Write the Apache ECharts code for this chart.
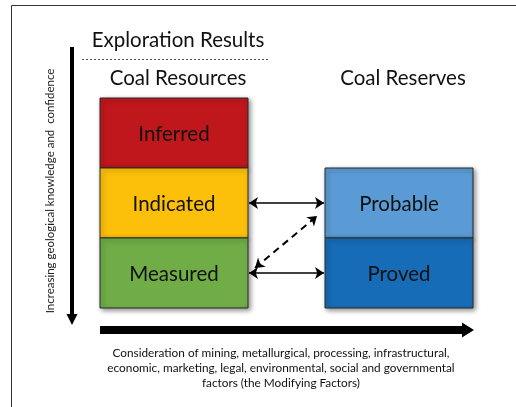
<!DOCTYPE html>
<html>
<head>
<meta charset="utf-8">
<script src="https://cdn.jsdelivr.net/npm/echarts@6/dist/echarts.min.js"></script>
<style>
  html, body { margin: 0; padding: 0; background: #fff; }
  #chart { width: 516px; height: 407px; }
</style>
</head>
<body>
<div id="chart"></div>
<script>
// classification boxes: which column (0 resources, 1 reserves) and which confidence level
const boxNames = ['Inferred', 'Indicated', 'Measured', 'Probable', 'Proved']
const boxColumn = [0, 0, 0, 1, 1]
const boxLevel = [0, 1, 2, 1, 2]
const boxColors = ['#c0171c', '#fcc00b', '#70ad47', '#5b9bd5', '#176cb7']
// links between resource and reserve classes: [from, to, dashed]
const links = [
  ['Indicated', 'Probable', false],
  ['Measured', 'Proved', false],
  ['Measured', 'Probable', true],
]
const columnTitles = ['Coal Resources', 'Coal Reserves']
const factorLines = [
  'Consideration of mining, metallurgical, processing, infrastructural,',
  'economic, marketing, legal, environmental, social and governmental',
  'factors (the Modifying Factors)',
]

// layout in canvas units
const colLeft = [100, 325]
const boxW = 148
const levelTop = 98
const levelH = 70
const font = 'Lato, "Open Sans", sans-serif'

const chart = echarts.init(document.getElementById('chart'))

function levelMid(l) {
  return levelTop + l * levelH + levelH / 2
}

function linkCoords(link) {
  const a = boxNames.indexOf(link[0])
  const b = boxNames.indexOf(link[1])
  const x0 = colLeft[boxColumn[a]] + boxW + 1
  const x1 = colLeft[boxColumn[b]] - 1
  if (boxLevel[a] === boxLevel[b]) {
    return [[x0, levelMid(boxLevel[a])], [x1, levelMid(boxLevel[b])]]
  }
  return [
    [x0 + 6, levelMid(boxLevel[a]) - 5],
    [x1 - 7, levelMid(boxLevel[b]) + 13],
  ]
}

function renderBox(params, api) {
  const i = params.dataIndex
  const c = api.value(0)
  const l = api.value(1)
  const p0 = api.coord([colLeft[c], levelTop + l * levelH])
  const p1 = api.coord([colLeft[c] + boxW, levelTop + (l + 1) * levelH])
  return {
    type: 'group',
    children: [
      {
        type: 'rect',
        shape: { x: p0[0], y: p0[1], width: p1[0] - p0[0], height: p1[1] - p0[1] },
        style: {
          fill: boxColors[i],
          stroke: '#2a2a2a',
          lineWidth: 1,
          shadowBlur: 5,
          shadowOffsetX: 2,
          shadowOffsetY: 2,
          shadowColor: 'rgba(0,0,0,0.45)',
        },
      },
      {
        type: 'text',
        style: {
          x: (p0[0] + p1[0]) / 2,
          y: (p0[1] + p1[1]) / 2 + 1,
          text: boxNames[i],
          fill: '#111',
          font: '20.5px ' + font,
          align: 'center',
          verticalAlign: 'middle',
        },
      },
    ],
  }
}

// thick arrows for the two axes of the diagram
function renderAxisArrow(params, api) {
  const horiz = api.value(0) === 1
  const s = api.coord([api.value(1), api.value(2)])
  const e = api.coord([api.value(3), api.value(4)])
  const half = api.value(5) / 2
  const headL = api.value(6)
  const headW = api.value(7) / 2
  let pts
  if (horiz) {
    const hx = e[0] - headL
    pts = [[s[0], s[1] - half], [hx, s[1] - half], [hx, s[1] - headW], [e[0], s[1]],
      [hx, s[1] + headW], [hx, s[1] + half], [s[0], s[1] + half]]
  } else {
    const hy = e[1] - headL
    pts = [[s[0] - half, s[1]], [s[0] - half, hy], [s[0] - headW, hy], [s[0], e[1]],
      [s[0] + headW, hy], [s[0] + half, hy], [s[0] + half, s[1]]]
  }
  return { type: 'polygon', shape: { points: pts }, style: { fill: '#000' } }
}

const option = {
  animation: false,
  grid: { left: 0, right: 0, top: 0, bottom: 0 },
  xAxis: { type: 'value', min: 0, max: 516, show: false },
  yAxis: { type: 'value', min: 0, max: 407, inverse: true, show: false },
  graphic: [
    {
      type: 'rect',
      shape: { x: 11.5, y: 5.5, width: 530, height: 430 },
      style: { fill: 'none', stroke: '#333', lineWidth: 1 },
    },
    {
      type: 'text',
      style: { x: 178, y: 40, text: 'Exploration Results', font: '20.5px ' + font, fill: '#111', align: 'center', verticalAlign: 'middle' },
    },
    {
      type: 'line',
      shape: { x1: 82, y1: 59.5, x2: 268, y2: 59.5 },
      style: { stroke: '#555', lineWidth: 1, lineDash: [2, 2] },
    },
    {
      type: 'text',
      style: { x: 178, y: 78, text: columnTitles[0], font: '20.5px ' + font, fill: '#111', align: 'center', verticalAlign: 'middle' },
    },
    {
      type: 'text',
      style: { x: 403, y: 78, text: columnTitles[1], font: '20.5px ' + font, fill: '#111', align: 'center', verticalAlign: 'middle' },
    },
    {
      type: 'text',
      x: 50,
      y: 191,
      rotation: Math.PI / 2,
      style: { x: 0, y: 0, text: 'Increasing geological knowledge and  confidence', font: '11.5px ' + font, fill: '#222', align: 'center', verticalAlign: 'middle' },
    },
    {
      type: 'text',
      style: {
        x: 281, y: 368, text: factorLines.join('\n'), font: '11.8px ' + font, fill: '#111',
        align: 'center', verticalAlign: 'middle', lineHeight: 15,
      },
    },
  ],
  series: [
    {
      type: 'custom',
      renderItem: renderAxisArrow,
      data: [
        [0, 72, 47, 72, 325, 4, 11, 11],
        [1, 100, 330, 474, 330, 8, 12, 15],
      ],
      silent: true,
    },
    {
      type: 'custom',
      renderItem: renderBox,
      data: boxNames.map((n, i) => [boxColumn[i], boxLevel[i], n]),
      silent: true,
    },
    {
      type: 'lines',
      coordinateSystem: 'cartesian2d',
      symbol: ['arrow', 'arrow'],
      symbolSize: 9,
      lineStyle: { color: '#000', width: 1.7, opacity: 1, curveness: 0 },
      silent: true,
      data: links.map((lk) => ({
        coords: linkCoords(lk),
        lineStyle: lk[2] ? { type: [7, 5], width: 2 } : { type: 'solid' },
      })),
    },
  ],
}

chart.setOption(option)
</script>
</body>
</html>
